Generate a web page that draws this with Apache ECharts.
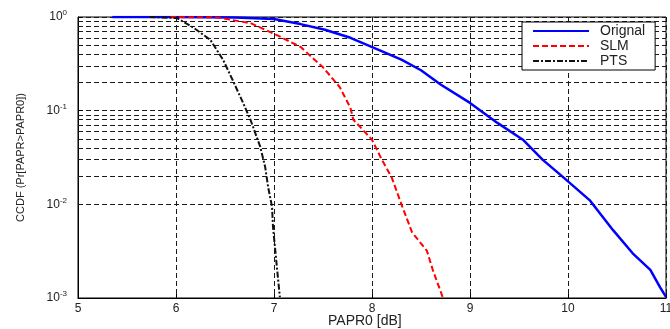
<!DOCTYPE html>
<html>
<head>
<meta charset="utf-8">
<script src="https://cdn.jsdelivr.net/npm/echarts@6/dist/echarts.min.js"></script>
<style>
html,body{margin:0;padding:0;background:#fff;}
#main{width:670px;height:329px;}
</style>
</head>
<body>
<div id="main"></div>
<script>
// data
var xTicks = [5, 6, 7, 8, 9, 10, 11];

var origX = [5.35, 6.0, 6.6, 7.0, 7.27, 7.52, 7.78, 8.08, 8.3, 8.5, 8.7, 9.0, 9.28, 9.54, 9.74, 9.95, 10.22, 10.46, 10.66, 10.84, 10.94, 11.0];
var origY = [1.0, 1.0, 0.99, 0.95, 0.84, 0.73, 0.60, 0.44, 0.35, 0.27, 0.19, 0.121, 0.074, 0.049, 0.030, 0.0195, 0.0111, 0.0053, 0.0030, 0.0020, 0.0013, 0.00103];

var slmX = [5.94, 6.42, 6.76, 7.03, 7.27, 7.5, 7.67, 7.78, 7.81, 8.0, 8.1, 8.2, 8.31, 8.41, 8.56, 8.62, 8.72];
var slmY = [1.0, 0.99, 0.86, 0.64, 0.48, 0.29, 0.179, 0.107, 0.080, 0.049, 0.030, 0.0195, 0.0094, 0.0050, 0.0032, 0.0020, 0.00103];

var ptsX = [5.73, 6.01, 6.17, 6.35, 6.48, 6.58, 6.68, 6.76, 6.86, 6.91, 6.94, 6.98, 6.99, 7.01, 7.03, 7.06];
var ptsY = [1.0, 0.975, 0.78, 0.57, 0.35, 0.21, 0.124, 0.080, 0.041, 0.025, 0.0153, 0.0094, 0.0057, 0.0035, 0.0021, 0.00102];

function pairs(xs, ys) {
	var out = [];
	for (var i = 0; i < xs.length; i++) out.push([xs[i], ys[i]]);
	return out;
}

// dashed grid at 2..9 of every decade (log axis)
var minorLevels = [];
for (var d = -3; d < 0; d++) {
	for (var m = 2; m <= 9; m++) minorLevels.push({ yAxis: m * Math.pow(10, d) });
}

var font = 'Liberation Sans, Arial, sans-serif';
var gridDash = { color: '#1a1a1a', width: 1, type: [5, 3] };

var myChart = echarts.init(document.getElementById('main'));
var option = {
	animation: false,
	// x axis title placed as plain text under the axis
	title: {
		text: 'PAPR0 [dB]',
		left: 328, top: 314,
		padding: 0,
		textStyle: { fontFamily: font, fontSize: 14, fontWeight: 'normal', color: '#222' }
	},
	grid: { left: 78, right: 4, top: 17, bottom: 31, show: true, borderColor: '#000', borderWidth: 1, outerBoundsMode: 'none', containLabel: false },
	legend: {
		orient: 'vertical',
		left: 522, top: 22,
		z: 50,
		backgroundColor: '#fff',
		borderColor: '#000',
		borderWidth: 1,
		padding: [2, 10, 2, 10],
		itemGap: 1,
		itemWidth: 56,
		itemHeight: 14,
		itemStyle: { color: 'rgba(0,0,0,0)', borderWidth: 0 },
		textStyle: { fontFamily: font, fontSize: 14, color: '#222', padding: [0, 0, 0, 6] },
		data: ['Orignal', 'SLM', 'PTS']
	},
	xAxis: {
		type: 'value',
		min: 5, max: 11, interval: 1,
		axisLine: { lineStyle: { color: '#000', width: 1 } },
		axisTick: { inside: true, length: 4, lineStyle: { color: '#000' } },
		axisLabel: { fontFamily: font, fontSize: 12, color: '#222', margin: 5, showMaxLabel: true },
		splitLine: { show: true, lineStyle: gridDash }
	},
	yAxis: {
		type: 'log',
		logBase: 10,
		min: 0.001, max: 1,
		name: 'CCDF (Pr[PAPR>PAPR0])',
		nameLocation: 'middle',
		nameGap: 52,
		nameTextStyle: { fontFamily: font, fontSize: 11, color: '#222' },
		axisLine: { lineStyle: { color: '#000', width: 1 } },
		axisTick: { inside: true, length: 4, lineStyle: { color: '#000' } },
		axisLabel: {
			fontFamily: font, fontSize: 12, color: '#222', margin: 11,
			formatter: function (v) {
				return '10{s|' + Math.round(Math.log10(v)) + '}';
			},
			rich: { s: { fontFamily: font, fontSize: 8, color: '#222', verticalAlign: 'top', padding: [0, 0, 8, 0] } }
		},
		splitLine: { show: true, lineStyle: gridDash }
	},
	series: [
		{
			name: 'grid',
			type: 'line',
			data: [],
			silent: true,
			z: 1,
			markLine: {
				silent: true,
				z: 1,
				symbol: ['none', 'none'],
				label: { show: false },
				lineStyle: gridDash,
				data: minorLevels
			}
		},
		{
			name: 'Orignal',
			type: 'line',
			data: pairs(origX, origY),
			showSymbol: false,
			symbol: 'none',
			z: 3,
			lineStyle: { color: '#0000ff', width: 2.5 },
			itemStyle: { color: '#0000ff' }
		},
		{
			name: 'SLM',
			type: 'line',
			data: pairs(slmX, slmY),
			showSymbol: false,
			symbol: 'none',
			z: 4,
			lineStyle: { color: '#ff0000', width: 2, type: [6, 3] },
			itemStyle: { color: '#ff0000' }
		},
		{
			name: 'PTS',
			type: 'line',
			data: pairs(ptsX, ptsY),
			showSymbol: false,
			symbol: 'none',
			z: 5,
			lineStyle: { color: '#111', width: 2, type: [6, 2, 2, 2] },
			itemStyle: { color: '#111' }
		}
	]
};
myChart.setOption(option);
</script>
</body>
</html>
